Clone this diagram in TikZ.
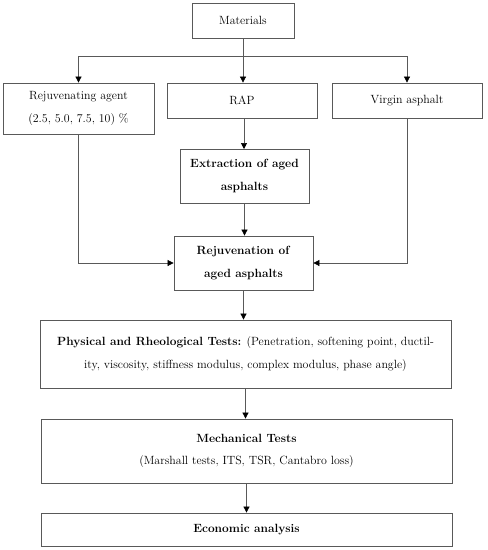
\documentclass[tikz,border=0pt]{standalone}
\usetikzlibrary{arrows.meta,positioning}
\begin{document}
\begin{tikzpicture}[x=1pt,y=-1pt,
  box/.style={draw=black!65,line width=0.8pt,inner sep=0pt,align=center,font=\fontsize{11.9}{22.5}\selectfont},
  conn/.style={draw=black!65,line width=0.7pt,-{Triangle[length=6pt,width=6pt,color=black]}},
  plain/.style={draw=black!65,line width=0.7pt}]
\useasboundingbox (0,0) rectangle (488,550);
\node[box,minimum width=102pt,minimum height=35pt] (mat) at (243,20.5) {Materials};
\node[box,minimum width=151pt,minimum height=51pt] (rej) at (78.5,108.5) {Rejuvenating agent\\(2.5, 5.0, 7.5, 10) \%};
\node[box,minimum width=150pt,minimum height=35pt] (rap) at (242,100.5) {RAP};
\node[box,minimum width=150pt,minimum height=35pt] (vir) at (407,100.5) {Virgin asphalt};
\node[box,minimum width=129pt,minimum height=54pt] (ext) at (244.5,176) {\textbf{Extraction of aged}\\\textbf{asphalts}};
\node[box,minimum width=139pt,minimum height=54pt] (rjv) at (243.5,263) {\textbf{Rejuvenation of}\\\textbf{aged asphalts}};
\node[box,minimum width=411pt,minimum height=68pt] (phy) at (245.5,354) {\textbf{Physical and Rheological Tests:} (Penetration, softening point, ductil-\\ity, viscosity, stiffness modulus, complex modulus, phase angle)};
\node[box,minimum width=411pt,minimum height=64pt] (mec) at (246.5,451) {\textbf{Mechanical Tests}\\(Marshall tests, ITS, TSR, Cantabro loss)};
\node[box,minimum width=411pt,minimum height=33pt] (eco) at (246.5,529.5) {\textbf{Economic analysis}};
\coordinate (j) at (243,56);
\draw[plain] (mat.south) -- (j);
\draw[conn] (j) -| (rej.north);
\draw[conn] (j) -- (j |- rap.north);
\draw[conn] (j) -| (vir.north);
\draw[conn] (244,118) -- (244,149);
\draw[conn] (rej.south) |- (rjv.west);
\draw[conn] (vir.south) |- (rjv.east);
\draw[conn] (ext.south) -- (ext.south |- rjv.north);
\draw[conn] (rjv.south) -- (rjv.south |- phy.north);
\draw[conn] (phy.south) -- (phy.south |- mec.north);
\draw[conn] (mec.south) -- (mec.south |- eco.north);
\end{tikzpicture}
\end{document}
